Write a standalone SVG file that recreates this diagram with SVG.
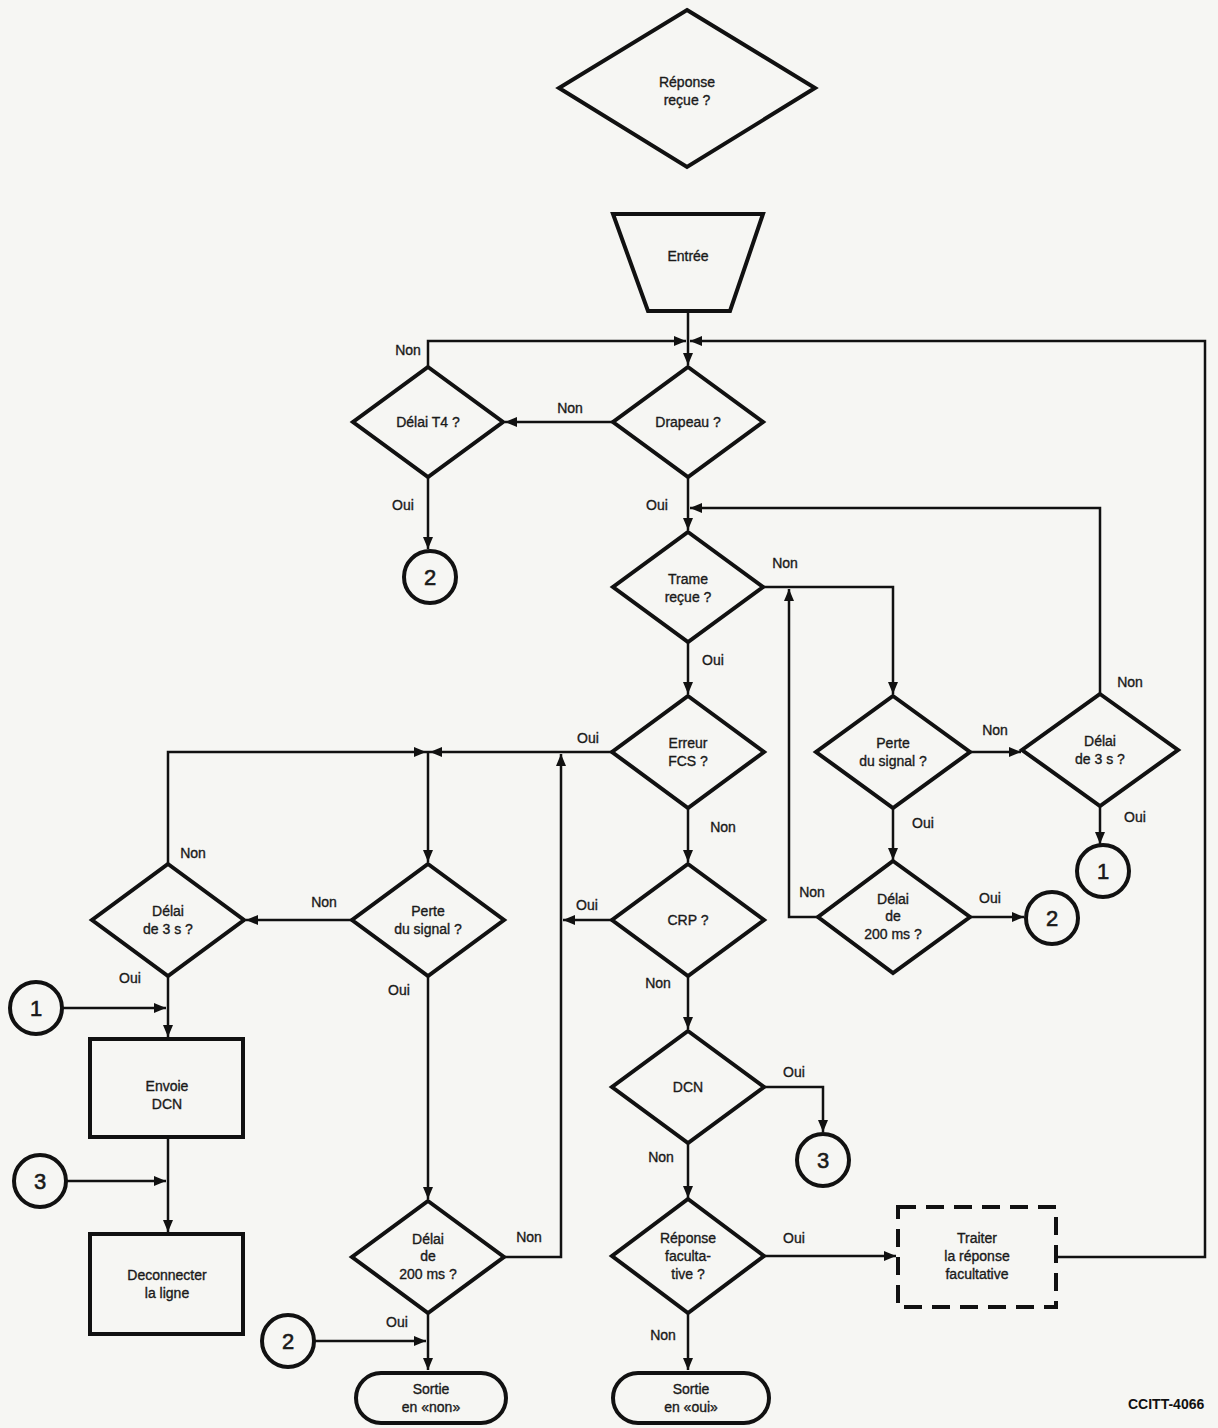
<svg xmlns="http://www.w3.org/2000/svg" width="1218" height="1428" viewBox="0 0 1218 1428">
<defs>
<marker id="ah" viewBox="0 0 12 10" refX="12" refY="5" markerWidth="12" markerHeight="10" markerUnits="userSpaceOnUse" orient="auto">
<path d="M0,0 L12,5 L0,10 z" fill="#111"/>
</marker>
</defs>
<style>
.shape{fill:none;stroke:#111;stroke-width:4;stroke-linejoin:miter}
.dash{fill:none;stroke:#111;stroke-width:4;stroke-dasharray:18,10}
.conn{fill:none;stroke:#111;stroke-width:2.5;marker-end:url(#ah)}
.line{fill:none;stroke:#111;stroke-width:2.5}
text{font-family:"Liberation Sans",Arial,sans-serif;font-size:14px;fill:#1a1a1a;stroke:#1a1a1a;stroke-width:0.35;text-anchor:middle}
.lbl{font-size:14px}
.num{font-size:22px;stroke-width:0.6}
.ref{font-weight:bold;font-size:14px;text-anchor:start;fill:#111;stroke:none}
</style>
<rect x="0" y="0" width="1218" height="1428" fill="#f6f6f3"/>

<g id="connectors">
<path class="conn" d="M688,311 V365"/>
<path class="conn" d="M428,367 V341 H686"/>
<path class="conn" d="M1056,1257 H1205 V341 H690"/>
<path class="conn" d="M613,422 H505"/>
<path class="conn" d="M428,477 V549"/>
<path class="conn" d="M688,477 V530"/>
<path class="conn" d="M1100,694 V508 H690"/>
<path class="conn" d="M763,587 H893 V694"/>
<path class="conn" d="M818,917 H789 V589"/>
<path class="conn" d="M688,642 V694"/>
<path class="conn" d="M613,752 H430"/>
<path class="conn" d="M168,864 V752 H426"/>
<path class="line" d="M430,752 H426"/>
<path class="conn" d="M428,752 V862"/>
<path class="conn" d="M504,1257 H561 V754"/>
<path class="conn" d="M613,920 H563"/>
<path class="conn" d="M688,808 V862"/>
<path class="conn" d="M970,752 H1021"/>
<path class="conn" d="M1100,806 V844"/>
<path class="conn" d="M893,808 V860"/>
<path class="conn" d="M969,917 H1024"/>
<path class="conn" d="M688,976 V1029"/>
<path class="conn" d="M764,1087 H823 V1132"/>
<path class="conn" d="M688,1143 V1198"/>
<path class="conn" d="M764,1256 H896"/>
<path class="conn" d="M688,1313 V1370"/>
<path class="conn" d="M352,920 H246"/>
<path class="conn" d="M428,976 V1199"/>
<path class="conn" d="M168,976 V1037"/>
<path class="conn" d="M62,1008 H166"/>
<path class="conn" d="M168,1137 V1232"/>
<path class="conn" d="M66,1181 H166"/>
<path class="conn" d="M428,1313 V1370"/>
<path class="conn" d="M314,1341 H426"/>
</g>

<g id="n_reponse_recue">
<polygon class="shape" points="687,10 815,88 687,167 559,88"/>
<text x="687" y="87">Réponse</text>
<text x="687" y="105">reçue ?</text>
</g>

<g id="n_entree">
<polygon class="shape" points="613,214 763,214 730,311 648,311"/>
<text x="688" y="261">Entrée</text>
</g>

<g id="n_drapeau">
<polygon class="shape" points="688,367 763,422 688,477 613,422"/>
<text x="688" y="427">Drapeau ?</text>
</g>

<g id="n_delai_t4">
<polygon class="shape" points="428,367 503,422 428,477 353,422"/>
<text x="428" y="427">Délai T4 ?</text>
</g>

<g id="n_c2_top">
<circle class="shape" cx="430" cy="577" r="26"/>
<text class="num" x="430" y="585">2</text>
</g>

<g id="n_trame">
<polygon class="shape" points="688,532 763,587 688,642 613,587"/>
<text x="688" y="584">Trame</text>
<text x="688" y="602">reçue ?</text>
</g>

<g id="n_erreur_fcs">
<polygon class="shape" points="688,696 764,752 688,808 612,752"/>
<text x="688" y="748">Erreur</text>
<text x="688" y="766">FCS ?</text>
</g>

<g id="n_perte_r">
<polygon class="shape" points="893,696 970,752 893,808 816,752"/>
<text x="893" y="748">Perte</text>
<text x="893" y="766">du signal ?</text>
</g>

<g id="n_delai3_r">
<polygon class="shape" points="1100,694 1178,750 1100,806 1022,750"/>
<text x="1100" y="746">Délai</text>
<text x="1100" y="764">de 3 s ?</text>
</g>

<g id="n_c1_r">
<circle class="shape" cx="1103" cy="871" r="26"/>
<text class="num" x="1103" y="879">1</text>
</g>

<g id="n_delai200_r">
<polygon class="shape" points="893,861 970,917 893,973 818,917"/>
<text x="893" y="904">Délai</text>
<text x="893" y="921">de</text>
<text x="893" y="939">200 ms ?</text>
</g>

<g id="n_c2_r">
<circle class="shape" cx="1052" cy="918" r="26"/>
<text class="num" x="1052" y="926">2</text>
</g>

<g id="n_crp">
<polygon class="shape" points="688,864 764,920 688,976 612,920"/>
<text x="688" y="925">CRP ?</text>
</g>

<g id="n_dcn">
<polygon class="shape" points="688,1031 764,1087 688,1143 612,1087"/>
<text x="688" y="1092">DCN</text>
</g>

<g id="n_c3_mid">
<circle class="shape" cx="823" cy="1160" r="26"/>
<text class="num" x="823" y="1168">3</text>
</g>

<g id="n_reponse_fac">
<polygon class="shape" points="688,1199 764,1256 688,1313 612,1256"/>
<text x="688" y="1243">Réponse</text>
<text x="688" y="1261">faculta-</text>
<text x="688" y="1279">tive ?</text>
</g>

<g id="n_traiter">
<rect class="dash" x="898" y="1207" width="158" height="100"/>
<text x="977" y="1243">Traiter</text>
<text x="977" y="1261">la réponse</text>
<text x="977" y="1279">facultative</text>
</g>

<g id="n_sortie_oui">
<rect class="shape" x="613" y="1373" width="156" height="50" rx="25" ry="25"/>
<text x="691" y="1394">Sortie</text>
<text x="691" y="1412">en «oui»</text>
</g>

<g id="n_perte_l">
<polygon class="shape" points="428,864 504,920 428,976 352,920"/>
<text x="428" y="916">Perte</text>
<text x="428" y="934">du signal ?</text>
</g>

<g id="n_delai3_l">
<polygon class="shape" points="168,864 244,920 168,976 92,920"/>
<text x="168" y="916">Délai</text>
<text x="168" y="934">de 3 s ?</text>
</g>

<g id="n_c1_l">
<circle class="shape" cx="36" cy="1008" r="26"/>
<text class="num" x="36" y="1016">1</text>
</g>

<g id="n_envoie_dcn">
<rect class="shape" x="90" y="1039" width="153" height="98"/>
<text x="167" y="1091">Envoie</text>
<text x="167" y="1109">DCN</text>
</g>

<g id="n_c3_l">
<circle class="shape" cx="40" cy="1181" r="26"/>
<text class="num" x="40" y="1189">3</text>
</g>

<g id="n_deconnecter">
<rect class="shape" x="90" y="1234" width="153" height="100"/>
<text x="167" y="1280">Deconnecter</text>
<text x="167" y="1298">la ligne</text>
</g>

<g id="n_delai200_l">
<polygon class="shape" points="428,1201 504,1257 428,1313 352,1257"/>
<text x="428" y="1244">Délai</text>
<text x="428" y="1261">de</text>
<text x="428" y="1279">200 ms ?</text>
</g>

<g id="n_c2_l">
<circle class="shape" cx="288" cy="1341" r="26"/>
<text class="num" x="288" y="1349">2</text>
</g>

<g id="n_sortie_non">
<rect class="shape" x="356" y="1373" width="150" height="50" rx="25" ry="25"/>
<text x="431" y="1394">Sortie</text>
<text x="431" y="1412">en «non»</text>
</g>

<g id="labels">
<text class="lbl" x="408" y="355">Non</text>
<text class="lbl" x="570" y="413">Non</text>
<text class="lbl" x="403" y="510">Oui</text>
<text class="lbl" x="657" y="510">Oui</text>
<text class="lbl" x="785" y="568">Non</text>
<text class="lbl" x="713" y="665">Oui</text>
<text class="lbl" x="1130" y="687">Non</text>
<text class="lbl" x="995" y="735">Non</text>
<text class="lbl" x="588" y="743">Oui</text>
<text class="lbl" x="923" y="828">Oui</text>
<text class="lbl" x="1135" y="822">Oui</text>
<text class="lbl" x="723" y="832">Non</text>
<text class="lbl" x="193" y="858">Non</text>
<text class="lbl" x="812" y="897">Non</text>
<text class="lbl" x="990" y="903">Oui</text>
<text class="lbl" x="324" y="907">Non</text>
<text class="lbl" x="587" y="910">Oui</text>
<text class="lbl" x="130" y="983">Oui</text>
<text class="lbl" x="658" y="988">Non</text>
<text class="lbl" x="399" y="995">Oui</text>
<text class="lbl" x="794" y="1077">Oui</text>
<text class="lbl" x="661" y="1162">Non</text>
<text class="lbl" x="529" y="1242">Non</text>
<text class="lbl" x="794" y="1243">Oui</text>
<text class="lbl" x="397" y="1327">Oui</text>
<text class="lbl" x="663" y="1340">Non</text>
<text class="ref" x="1128" y="1409">CCITT-4066</text>
</g>
</svg>
